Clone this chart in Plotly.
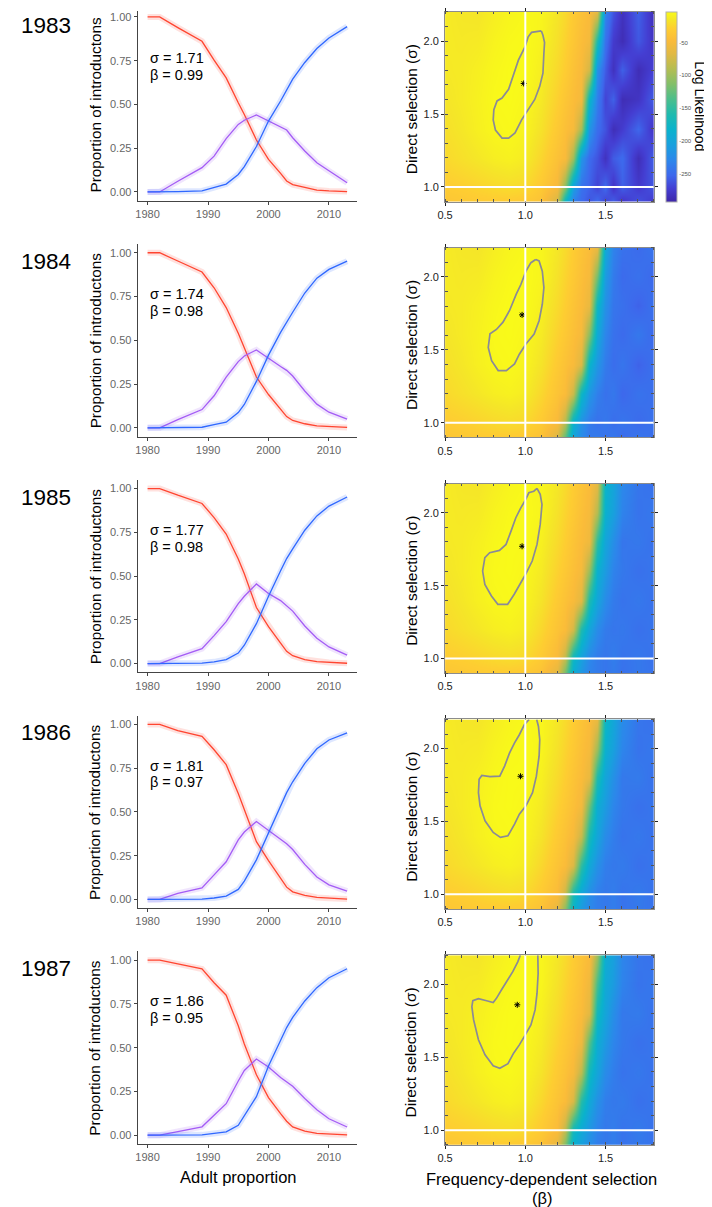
import plotly.graph_objects as go

# page body has an 8px margin: the figure is drawn 8px smaller and all pixel positions shifted
PAGE_W, PAGE_H, BODY = 712, 1207, 8
W, H = PAGE_W - BODY, PAGE_H - BODY
FONT = "Liberation Sans, Arial, sans-serif"

# ---------------- data ----------------
cohorts = ["1983", "1984", "1985", "1986", "1987"]
sigma_hat = [1.71, 1.74, 1.77, 1.81, 1.86]
beta_hat = [0.99, 0.98, 0.98, 0.97, 0.95]

years = [1980, 1982, 1985, 1989, 1991, 1993, 1995, 1996, 1998, 2000, 2002, 2003, 2004, 2006, 2008, 2010, 2013]

red_1983 = [1.00, 1.00, 0.939, 0.861, 0.753, 0.652, 0.51, 0.443, 0.297, 0.186, 0.106, 0.063, 0.042, 0.025, 0.011, 0.006, 0.002]
purple_1983 = [0, 0, 0.061, 0.139, 0.205, 0.305, 0.386, 0.41, 0.44, 0.405, 0.373, 0.354, 0.31, 0.234, 0.167, 0.12, 0.053]
blue_1983 = [0, 0, 0.002, 0.006, 0.025, 0.045, 0.10, 0.145, 0.26, 0.405, 0.52, 0.58, 0.645, 0.74, 0.82, 0.88, 0.945]

red_1984 = [1.00, 1.00, 0.953, 0.89, 0.80, 0.687, 0.54, 0.457, 0.29, 0.19, 0.108, 0.064, 0.042, 0.023, 0.011, 0.006, 0.002]
purple_1984 = [0, 0, 0.047, 0.104, 0.183, 0.29, 0.378, 0.41, 0.445, 0.395, 0.35, 0.328, 0.296, 0.21, 0.135, 0.089, 0.05]
blue_1984 = [0, 0, 0, 0.003, 0.018, 0.032, 0.087, 0.133, 0.265, 0.415, 0.545, 0.605, 0.66, 0.77, 0.855, 0.905, 0.952]

red_1985 = [1.00, 1.00, 0.962, 0.915, 0.834, 0.74, 0.598, 0.513, 0.32, 0.211, 0.117, 0.07, 0.045, 0.023, 0.011, 0.006, 0.002]
purple_1985 = [0, 0, 0.038, 0.085, 0.16, 0.24, 0.343, 0.385, 0.455, 0.40, 0.36, 0.33, 0.30, 0.215, 0.145, 0.095, 0.048]
blue_1985 = [0, 0, 0, 0.003, 0.01, 0.023, 0.06, 0.105, 0.228, 0.385, 0.53, 0.60, 0.655, 0.762, 0.844, 0.90, 0.952]

red_1986 = [1.00, 1.00, 0.965, 0.932, 0.855, 0.77, 0.605, 0.512, 0.33, 0.222, 0.12, 0.07, 0.043, 0.023, 0.011, 0.006, 0.002]
purple_1986 = [0, 0, 0.035, 0.066, 0.14, 0.215, 0.34, 0.385, 0.445, 0.396, 0.345, 0.318, 0.285, 0.20, 0.128, 0.083, 0.047]
blue_1986 = [0, 0, 0, 0.002, 0.008, 0.019, 0.057, 0.104, 0.226, 0.377, 0.535, 0.61, 0.672, 0.777, 0.861, 0.911, 0.951]

red_1987 = [1.00, 1.00, 0.979, 0.95, 0.871, 0.80, 0.625, 0.521, 0.345, 0.215, 0.123, 0.08, 0.047, 0.023, 0.011, 0.006, 0.002]
purple_1987 = [0, 0, 0.021, 0.048, 0.114, 0.18, 0.31, 0.37, 0.435, 0.39, 0.33, 0.305, 0.28, 0.21, 0.145, 0.094, 0.047]
blue_1987 = [0, 0, 0, 0.002, 0.01, 0.019, 0.057, 0.114, 0.22, 0.395, 0.547, 0.615, 0.673, 0.767, 0.843, 0.90, 0.951]

red_series = [red_1983, red_1984, red_1985, red_1986, red_1987]
purple_series = [purple_1983, purple_1984, purple_1985, purple_1986, purple_1987]
blue_series = [blue_1983, blue_1984, blue_1985, blue_1986, blue_1987]

# likelihood surface (beta columns x sigma rows)
beta_grid = [0.5, 0.6, 0.7, 0.8, 0.9, 1.0, 1.1, 1.2, 1.25, 1.3, 1.35, 1.4, 1.45, 1.5, 1.55, 1.6, 1.7, 1.8]
sigma_grid = [0.9, 1.0, 1.2, 1.4, 1.6, 1.8, 2.0, 2.2]

ll_1983 = [
    [-36, -34, -32, -31, -31, -33, -40, -75, -180, -235, -250, -262, -248, -272, -255, -280, -262, -278],
    [-30, -28, -25, -22, -20, -22, -33, -50, -110, -205, -245, -255, -270, -250, -280, -256, -276, -260],
    [-22, -18, -14, -10, -8, -11, -24, -40, -48, -100, -215, -250, -262, -282, -258, -250, -285, -255],
    [-18, -14, -9, -5, -4, -7, -17, -33, -42, -50, -95, -215, -248, -262, -285, -274, -252, -282],
    [-15, -12, -8, -4, -3, -5, -13, -27, -36, -44, -52, -175, -235, -270, -255, -286, -280, -256],
    [-13, -12, -9, -5, -3, -3, -10, -22, -30, -40, -48, -75, -220, -258, -282, -256, -286, -270],
    [-12, -13, -12, -7, -4, -3, -7, -18, -26, -35, -44, -52, -160, -245, -275, -286, -260, -282],
    [-12, -14, -15, -10, -6, -4, -6, -15, -22, -32, -40, -46, -65, -230, -262, -282, -256, -286],
]
ll_1984 = [
    [-36, -34, -32, -31, -31, -33, -40, -70, -130, -200, -225, -240, -238, -245, -240, -250, -242, -248],
    [-30, -28, -25, -22, -20, -22, -32, -48, -90, -185, -220, -238, -245, -240, -248, -242, -250, -244],
    [-22, -18, -14, -10, -8, -11, -23, -38, -46, -80, -175, -215, -235, -245, -240, -252, -244, -248],
    [-18, -14, -9, -5, -4, -7, -16, -32, -40, -48, -70, -180, -215, -238, -248, -242, -255, -245],
    [-15, -12, -8, -4, -3, -5, -12, -26, -34, -42, -50, -110, -195, -230, -245, -250, -240, -252],
    [-13, -12, -9, -5, -3, -3, -9, -21, -29, -38, -46, -60, -175, -220, -242, -246, -255, -244],
    [-12, -13, -12, -7, -4, -3, -6, -17, -25, -33, -42, -50, -120, -210, -238, -250, -245, -252],
    [-12, -14, -15, -10, -6, -4, -6, -14, -21, -30, -38, -45, -60, -195, -232, -245, -250, -242],
]
ll_1985 = [
    [-36, -34, -32, -31, -31, -33, -40, -65, -120, -190, -215, -232, -238, -242, -238, -245, -240, -244],
    [-30, -28, -25, -22, -20, -22, -32, -48, -85, -175, -205, -228, -238, -242, -236, -244, -240, -246],
    [-22, -18, -14, -10, -8, -11, -23, -38, -46, -75, -160, -200, -225, -238, -242, -240, -246, -242],
    [-18, -14, -9, -5, -4, -7, -16, -32, -40, -48, -65, -160, -200, -225, -238, -244, -240, -246],
    [-15, -12, -8, -4, -3, -5, -12, -26, -34, -42, -50, -100, -185, -210, -232, -240, -246, -242],
    [-13, -12, -9, -5, -3, -3, -9, -21, -29, -38, -46, -55, -150, -200, -222, -242, -240, -246],
    [-12, -13, -12, -7, -4, -3, -6, -17, -25, -33, -42, -50, -90, -185, -205, -232, -244, -240],
    [-12, -14, -15, -10, -6, -4, -6, -14, -21, -30, -38, -45, -65, -180, -200, -228, -242, -246],
]
ll_1986 = [
    [-36, -34, -32, -31, -31, -33, -40, -62, -110, -180, -210, -228, -236, -240, -236, -244, -240, -244],
    [-30, -28, -25, -22, -20, -22, -32, -46, -80, -165, -200, -222, -236, -240, -236, -244, -238, -246],
    [-22, -18, -14, -10, -8, -11, -23, -38, -46, -70, -150, -195, -220, -236, -240, -238, -246, -242],
    [-18, -14, -9, -5, -4, -7, -16, -32, -40, -50, -80, -165, -200, -225, -236, -244, -240, -246],
    [-15, -12, -8, -4, -3, -5, -12, -26, -34, -42, -52, -120, -190, -210, -230, -240, -246, -242],
    [-13, -12, -9, -5, -3, -3, -9, -21, -29, -38, -46, -60, -160, -200, -220, -240, -238, -246],
    [-12, -13, -12, -7, -4, -3, -6, -17, -25, -33, -42, -50, -100, -185, -205, -230, -244, -240],
    [-12, -14, -15, -10, -6, -4, -6, -14, -21, -30, -38, -45, -60, -175, -198, -225, -242, -246],
]
ll_1987 = [
    [-36, -34, -32, -31, -31, -33, -40, -62, -115, -185, -205, -222, -236, -240, -236, -244, -240, -244],
    [-30, -28, -25, -22, -20, -22, -32, -46, -85, -170, -195, -215, -232, -240, -236, -244, -238, -246],
    [-22, -18, -14, -10, -8, -11, -23, -38, -46, -72, -155, -195, -220, -236, -240, -238, -246, -242],
    [-18, -14, -9, -5, -4, -7, -16, -32, -40, -50, -85, -170, -200, -225, -236, -244, -240, -246],
    [-15, -12, -8, -4, -3, -5, -12, -26, -34, -42, -55, -130, -190, -212, -230, -240, -246, -242],
    [-13, -12, -9, -5, -3, -3, -9, -21, -29, -38, -46, -65, -170, -200, -222, -240, -238, -246],
    [-12, -13, -12, -7, -4, -3, -6, -17, -25, -33, -42, -55, -140, -195, -210, -232, -244, -240],
    [-12, -14, -15, -10, -6, -4, -6, -14, -21, -30, -38, -46, -100, -190, -205, -230, -242, -246],
]
ll_surfaces = [ll_1983, ll_1984, ll_1985, ll_1986, ll_1987]

# confidence contour (beta, sigma)
ci_beta_1983 = [1.10, 1.039, 1.018, 0.998, 0.957, 0.926, 0.896, 0.855, 0.824, 0.804, 0.80, 0.814, 0.855, 0.896, 0.936, 0.977, 1.018, 1.059, 1.09, 1.11, 1.116, 1.12, 1.11, 1.10]
ci_sigma_1983 = [2.07, 2.06, 2.03, 1.96, 1.87, 1.76, 1.67, 1.61, 1.59, 1.53, 1.46, 1.39, 1.335, 1.335, 1.37, 1.46, 1.53, 1.60, 1.69, 1.78, 1.92, 1.99, 2.04, 2.07]
ci_beta_1984 = [1.065, 1.035, 1.004, 0.973, 0.943, 0.902, 0.861, 0.82, 0.78, 0.769, 0.79, 0.831, 0.882, 0.933, 0.963, 1.004, 1.055, 1.086, 1.106, 1.116, 1.106, 1.086, 1.065]
ci_sigma_1984 = [2.12, 2.098, 2.04, 1.95, 1.88, 1.77, 1.69, 1.64, 1.61, 1.517, 1.426, 1.358, 1.358, 1.403, 1.47, 1.54, 1.608, 1.70, 1.813, 1.927, 2.04, 2.11, 2.12]
ci_beta_1985 = [1.073, 1.053, 1.022, 1.002, 0.972, 0.941, 0.911, 0.88, 0.839, 0.778, 0.748, 0.734, 0.748, 0.789, 0.829, 0.89, 0.931, 0.961, 1.002, 1.043, 1.073, 1.093, 1.104, 1.093, 1.073]
ci_sigma_1985 = [2.167, 2.148, 2.137, 2.09, 2.034, 1.966, 1.874, 1.783, 1.742, 1.726, 1.692, 1.60, 1.509, 1.429, 1.372, 1.372, 1.441, 1.498, 1.578, 1.669, 1.783, 1.92, 2.057, 2.126, 2.167]
ci_beta_1986 = [1.024, 0.994, 0.963, 0.933, 0.902, 0.871, 0.841, 0.78, 0.729, 0.712, 0.708, 0.718, 0.749, 0.80, 0.845, 0.892, 0.933, 0.963, 1.004, 1.045, 1.069, 1.086, 1.09, 1.082, 1.071]
ci_sigma_1986 = [2.20, 2.164, 2.095, 2.039, 1.97, 1.88, 1.811, 1.807, 1.816, 1.789, 1.698, 1.607, 1.505, 1.425, 1.391, 1.402, 1.482, 1.55, 1.607, 1.698, 1.811, 1.948, 2.061, 2.152, 2.20]
ci_beta_1987 = [0.969, 0.953, 0.922, 0.892, 0.851, 0.82, 0.80, 0.759, 0.708, 0.673, 0.667, 0.678, 0.708, 0.749, 0.80, 0.841, 0.892, 0.927, 0.963, 1.0, 1.035, 1.061, 1.073, 1.08, 1.078]
ci_sigma_1987 = [2.20, 2.155, 2.087, 2.03, 1.961, 1.904, 1.875, 1.888, 1.902, 1.888, 1.847, 1.756, 1.62, 1.517, 1.442, 1.424, 1.456, 1.528, 1.585, 1.654, 1.722, 1.825, 1.938, 2.075, 2.20]
ci_betas = [ci_beta_1983, ci_beta_1984, ci_beta_1985, ci_beta_1986, ci_beta_1987]
ci_sigmas = [ci_sigma_1983, ci_sigma_1984, ci_sigma_1985, ci_sigma_1986, ci_sigma_1987]

neutral_beta = 1.0
neutral_sigma = 1.0
cbar_ticks = [-50, -100, -150, -200, -250]

# ---------------- styling ----------------
parula = [
    [0.00, "rgb(62,38,168)"], [0.07, "rgb(68,62,210)"], [0.14, "rgb(62,104,236)"],
    [0.22, "rgb(45,135,235)"], [0.30, "rgb(25,160,222)"], [0.38, "rgb(10,178,205)"],
    [0.46, "rgb(30,186,175)"], [0.54, "rgb(75,190,140)"], [0.62, "rgb(130,191,105)"],
    [0.70, "rgb(180,189,82)"], [0.78, "rgb(225,185,68)"], [0.85, "rgb(250,187,58)"],
    [0.91, "rgb(254,205,50)"], [0.96, "rgb(245,230,40)"], [1.00, "rgb(249,250,25)"],
]
line_cols = {"red": ("#ff4530", "rgba(255,69,48,0.16)"),
             "purple": ("#a45cf5", "rgba(164,92,245,0.16)"),
             "blue": ("#2f68ff", "rgba(47,104,255,0.16)")}

ROW = 236.4
LX0, LX1 = 131, 353
LY0, LY1 = 5.2, 198.2          # pixel rows of y = 1.05 and y = -0.05 in the first panel
L_PX_PER_UNIT = (LY1 - LY0) / 1.1
RX0, RX1 = 442, 653
RY0, RY1 = 9, 199


def px_x(p):
    return (p - BODY) / W


def px_y(p):
    return min(1.0, max(0.0, 1 - (p - BODY) / H))


fig = go.Figure()
layout = dict(width=W, height=H, margin=dict(l=0, r=0, t=0, b=0),
              paper_bgcolor="white", plot_bgcolor="white", showlegend=False,
              font=dict(family=FONT, color="black"))
annotations = []
shapes = []

for r in range(5):
    li, ri = 2 * r + 1, 2 * r + 2
    off = ROW * r
    lx, ly = f"x{li}", f"y{li}"
    rx, ry = f"x{ri}", f"y{ri}"
    # ---- left line chart ----
    for name, ser in (("red", red_series[r]), ("purple", purple_series[r]), ("blue", blue_series[r])):
        col, band = line_cols[name]
        fig.add_trace(go.Scatter(x=years, y=ser, mode="lines", xaxis=lx, yaxis=ly,
                                 line=dict(color=band, width=6), hoverinfo="skip"))
        fig.add_trace(go.Scatter(x=years, y=ser, mode="lines", xaxis=lx, yaxis=ly,
                                 line=dict(color=col, width=1.3)))
    top_px = max(LY0 + off, BODY)
    y_top = 1.05 - (top_px - (LY0 + off)) / L_PX_PER_UNIT
    layout[f"xaxis{li}"] = dict(domain=[px_x(LX0), px_x(LX1)], anchor=ly, range=[1978.35, 2014.65],
                                tickvals=[1980, 1990, 2000, 2010], showline=True, linecolor="#444",
                                linewidth=1, ticks="outside", ticklen=3, tickcolor="#444",
                                tickfont=dict(size=11, color="#666"), showgrid=False, zeroline=False)
    layout[f"yaxis{li}"] = dict(domain=[px_y(LY1 + off), px_y(top_px)], anchor=lx, range=[-0.05, y_top],
                                tickvals=[0, 0.25, 0.5, 0.75, 1.0], tickformat=".2f", showline=True,
                                linecolor="#444", linewidth=1, ticks="outside", ticklen=3, tickcolor="#444",
                                tickfont=dict(size=11, color="#666"), showgrid=False, zeroline=False)
    annotations.append(dict(x=1980, y=0.765, xref=lx, yref=ly, text=f"σ = {sigma_hat[r]:.2f}",
                            showarrow=False, xanchor="left", yanchor="middle", font=dict(size=14.5)))
    annotations.append(dict(x=1980, y=0.668, xref=lx, yref=ly, text=f"β = {beta_hat[r]:.2f}",
                            showarrow=False, xanchor="left", yanchor="middle", font=dict(size=14.5)))
    annotations.append(dict(x=px_x(38), y=px_y(22.5 + off), xref="paper", yref="paper", text=cohorts[r],
                            showarrow=False, xanchor="center", yanchor="middle", font=dict(size=22.5)))
    annotations.append(dict(x=px_x(88), y=px_y((LY0 + LY1) / 2 + off), xref="paper", yref="paper",
                            text="Proportion of introductons", textangle=-90, showarrow=False,
                            xanchor="center", yanchor="middle", font=dict(size=15.3)))
    # ---- right likelihood surface ----
    fig.add_trace(go.Heatmap(x=beta_grid, y=sigma_grid, z=ll_surfaces[r], coloraxis="coloraxis",
                             zsmooth="best", xaxis=rx, yaxis=ry))
    fig.add_trace(go.Scatter(x=ci_betas[r], y=ci_sigmas[r], mode="lines", xaxis=rx, yaxis=ry,
                             line=dict(color="#8a8a98", width=1.7)))
    fig.add_trace(go.Scatter(x=[beta_hat[r]], y=[sigma_hat[r]], mode="markers", xaxis=rx, yaxis=ry,
                             marker=dict(symbol="asterisk-open", size=5, color="black",
                                         line=dict(color="black", width=1))))
    shapes.append(dict(type="line", xref=rx, yref=f"{ry} domain", x0=neutral_beta, x1=neutral_beta,
                       y0=0, y1=1, line=dict(color="white", width=2)))
    shapes.append(dict(type="line", xref=f"{rx} domain", yref=ry, x0=0, x1=1, y0=neutral_sigma,
                       y1=neutral_sigma, line=dict(color="white", width=2)))
    common = dict(showline=True, linecolor="#8c8c8c", linewidth=1, mirror="ticks", ticks="outside",
                  ticklen=3, tickcolor="#222", tickfont=dict(size=11, color="#222"), showgrid=False,
                  zeroline=False, tickformat=".1f",
                  minor=dict(ticks="inside", dtick=0.1, ticklen=2.5, tickcolor="#555", showgrid=False))
    layout[f"xaxis{ri}"] = dict(domain=[px_x(RX0), px_x(RX1)], anchor=ry, range=[0.5, 1.8],
                                tick0=0.5, dtick=0.5, **common)
    layout[f"yaxis{ri}"] = dict(domain=[px_y(RY1 + off), px_y(RY0 + off)], anchor=rx, range=[0.9, 2.2],
                                tick0=1.0, dtick=0.5, **common)
    annotations.append(dict(x=px_x(408), y=px_y(106 + off), xref="paper", yref="paper",
                            text="Direct selection (σ)", textangle=-90, showarrow=False,
                            xanchor="center", yanchor="middle", font=dict(size=15.5)))

layout["coloraxis"] = dict(
    colorscale=parula, cmin=-293, cmax=-3,
    colorbar=dict(x=px_x(665), xanchor="left", y=px_y(104), yanchor="middle", len=190, lenmode="pixels",
                  thickness=11, thicknessmode="pixels", xpad=0, ypad=0, outlinewidth=1,
                  outlinecolor="#b0b0b0", tickvals=cbar_ticks, ticktext=[str(v) for v in cbar_ticks],
                  ticks="", tickfont=dict(size=6, color="#555")))
annotations.append(dict(x=px_x(700.5), y=px_y(103), xref="paper", yref="paper", text="Log Likelihood",
                        textangle=90, showarrow=False, xanchor="center", yanchor="middle",
                        borderpad=0, font=dict(size=14)))
annotations.append(dict(x=px_x(233), y=px_y(1177), xref="paper", yref="paper", text="Adult proportion",
                        showarrow=False, xanchor="center", yanchor="middle", font=dict(size=16.5)))
annotations.append(dict(x=px_x(540), y=px_y(1179), xref="paper", yref="paper",
                        text="Frequency-dependent selection", showarrow=False, xanchor="center",
                        yanchor="middle", font=dict(size=16.5)))
annotations.append(dict(x=px_x(540), y=px_y(1198), xref="paper", yref="paper", text="(β)",
                        showarrow=False, xanchor="center", yanchor="middle", font=dict(size=16.5)))
layout["annotations"] = annotations
layout["shapes"] = shapes
fig.update_layout(**layout)
fig.write_html("out.html")
